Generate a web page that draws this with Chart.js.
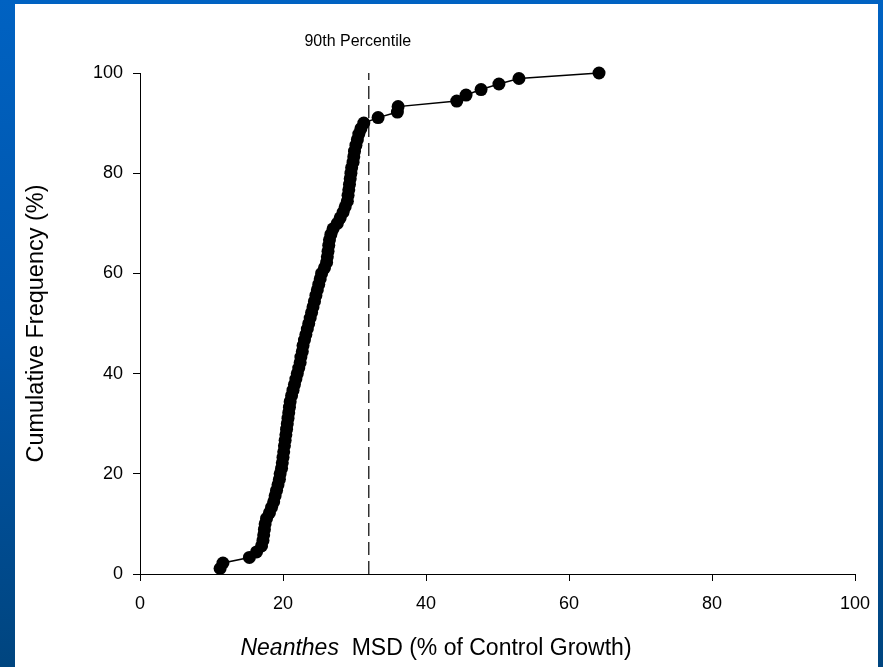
<!DOCTYPE html>
<html>
<head>
<meta charset="utf-8">
<script src="https://cdn.jsdelivr.net/npm/chart.js@4.4.1/dist/chart.umd.min.js"></script>
<style>
    html, body {
        margin: 0;
        padding: 0;
        width: 883px;
        height: 667px;
        overflow: hidden;
        background: linear-gradient(to bottom, #0062c2 0%, #0055aa 50%, #00457f 100%);
    }
    #panel {
        position: absolute;
        left: 15px;
        top: 4px;
        width: 863px;
        height: 663px;
        background: #ffffff;
    }
</style>
</head>
<body>
<div id="panel"><canvas id="cdfChart" width="863" height="663"></canvas></div>
<script>
// Neanthes MSD values (% of control growth), sorted
var msdValues = [
    11.2, 11.6, 15.3, 16.3, 17.0, 17.2, 17.3, 17.4, 17.5, 17.7,
    18.1, 18.4, 18.7, 18.9, 19.1, 19.3, 19.5, 19.6, 19.8, 19.9,
    20.0, 20.1, 20.2, 20.3, 20.4, 20.5, 20.6, 20.7, 20.8, 20.9,
    21.0, 21.2, 21.4, 21.6, 21.8, 22.0, 22.2, 22.4, 22.5, 22.7,
    22.8, 23.0, 23.2, 23.4, 23.6, 23.8, 24.0, 24.2, 24.4, 24.6,
    24.8, 25.0, 25.2, 25.4, 25.8, 26.1, 26.2, 26.3, 26.4, 26.5,
    26.7, 27.0, 27.6, 28.0, 28.4, 28.7, 29.0, 29.1, 29.2, 29.3,
    29.4, 29.5, 29.6, 29.8, 29.9, 30.0, 30.2, 30.4, 30.6, 30.9,
    31.3, 33.3, 36.0, 36.1, 44.3, 45.6, 47.7, 50.2, 53.0, 64.2
];
// cumulative frequency (%) for each value above
var cumFreq = [
    1.1, 2.2, 3.3, 4.4, 5.6, 6.7, 7.8, 8.9, 10.0, 11.1,
    12.2, 13.3, 14.4, 15.6, 16.7, 17.8, 18.9, 20.0, 21.1, 22.2,
    23.3, 24.4, 25.6, 26.7, 27.8, 28.9, 30.0, 31.1, 32.2, 33.3,
    34.4, 35.6, 36.7, 37.8, 38.9, 40.0, 41.1, 42.2, 43.3, 44.4,
    45.6, 46.7, 47.8, 48.9, 50.0, 51.1, 52.2, 53.3, 54.4, 55.6,
    56.7, 57.8, 58.9, 60.0, 61.1, 62.2, 63.3, 64.4, 65.6, 66.7,
    67.8, 68.9, 70.0, 71.1, 72.2, 73.3, 74.4, 75.6, 76.7, 77.8,
    78.9, 80.0, 81.1, 82.2, 83.3, 84.4, 85.6, 86.7, 87.8, 88.9,
    90.0, 91.1, 92.2, 93.3, 94.4, 95.6, 96.7, 97.8, 98.9, 100.0
];
var percentile90 = 32;
var percentileLabel = '90th Percentile';
var yTitle = 'Cumulative Frequency (%)';
var xTitleItalic = 'Neanthes';
var xTitleRest = '  MSD (% of Control Growth)';

var fontFamily = '"Liberation Sans", Arial, sans-serif';

var points = msdValues.map(function (v, i) {
    return { x: v, y: cumFreq[i] };
});

// titles and the percentile label drawn on the canvas
var titlesPlugin = {
    id: 'titles',
    afterDraw: function (chart) {
        var ctx = chart.ctx;
        var area = chart.chartArea;
        var xScale = chart.scales.x;
        ctx.save();
        ctx.fillStyle = '#000';
        ctx.textBaseline = 'middle';

        // y title
        ctx.font = '23.5px ' + fontFamily;
        ctx.translate(22, (area.top + area.bottom) / 2);
        ctx.rotate(-Math.PI / 2);
        ctx.textAlign = 'center';
        ctx.fillText(yTitle, 0, 0);
        ctx.setTransform(1, 0, 0, 1, 0, 0);

        // x title, first word italic
        var italicFont = 'italic 23px ' + fontFamily;
        var normalFont = '23px ' + fontFamily;
        ctx.font = italicFont;
        var w1 = ctx.measureText(xTitleItalic).width;
        ctx.font = normalFont;
        var w2 = ctx.measureText(xTitleRest).width;
        var startX = 421 - (w1 + w2) / 2;
        ctx.textAlign = 'left';
        ctx.font = italicFont;
        ctx.fillText(xTitleItalic, startX, 645);
        ctx.font = normalFont;
        ctx.fillText(xTitleRest, startX + w1, 645);

        // percentile label
        ctx.font = '16px ' + fontFamily;
        ctx.textAlign = 'center';
        ctx.fillText(percentileLabel, xScale.getPixelForValue(percentile90) - 11, 38);
        ctx.restore();
    }
};

var ctx = document.getElementById('cdfChart').getContext('2d');
new Chart(ctx, {
    type: 'scatter',
    data: {
        datasets: [{
            label: 'MSD',
            data: points,
            showLine: true,
            borderColor: '#000',
            borderWidth: 1.5,
            backgroundColor: '#000',
            pointRadius: 6.5,
            pointHoverRadius: 6.5,
            pointBorderWidth: 0
        }, {
            label: percentileLabel,
            data: [{ x: percentile90, y: 0 }, { x: percentile90, y: 100 }],
            showLine: true,
            borderColor: '#000',
            borderWidth: 1.2,
            borderDash: [13, 6],
            pointRadius: 0
        }]
    },
    options: {
        responsive: false,
        animation: false,
        clip: false,
        layout: {
            padding: { left: 0, right: 23, top: 69, bottom: 0 }
        },
        plugins: {
            legend: { display: false },
            tooltip: { enabled: false }
        },
        scales: {
            x: {
                type: 'linear',
                min: 0,
                max: 100,
                afterFit: function (scale) {
                    scale.height = 93;
                    scale.paddingLeft = 0;
                    scale.paddingRight = 0;
                },
                ticks: {
                    stepSize: 20,
                    color: '#000',
                    padding: 12,
                    font: { family: fontFamily, size: 18 }
                },
                grid: {
                    drawOnChartArea: false,
                    drawTicks: true,
                    tickLength: 7,
                    color: '#000'
                },
                border: { color: '#000', width: 1 }
            },
            y: {
                type: 'linear',
                min: 0,
                max: 100,
                afterFit: function (scale) {
                    scale.width = 125;
                    scale.paddingTop = 0;
                    scale.paddingBottom = 0;
                },
                ticks: {
                    stepSize: 20,
                    color: '#000',
                    padding: 10,
                    font: { family: fontFamily, size: 18 }
                },
                grid: {
                    drawOnChartArea: false,
                    drawTicks: true,
                    tickLength: 7,
                    color: '#000'
                },
                border: { color: '#000', width: 1 }
            }
        }
    },
    plugins: [titlesPlugin]
});
</script>
</body>
</html>
